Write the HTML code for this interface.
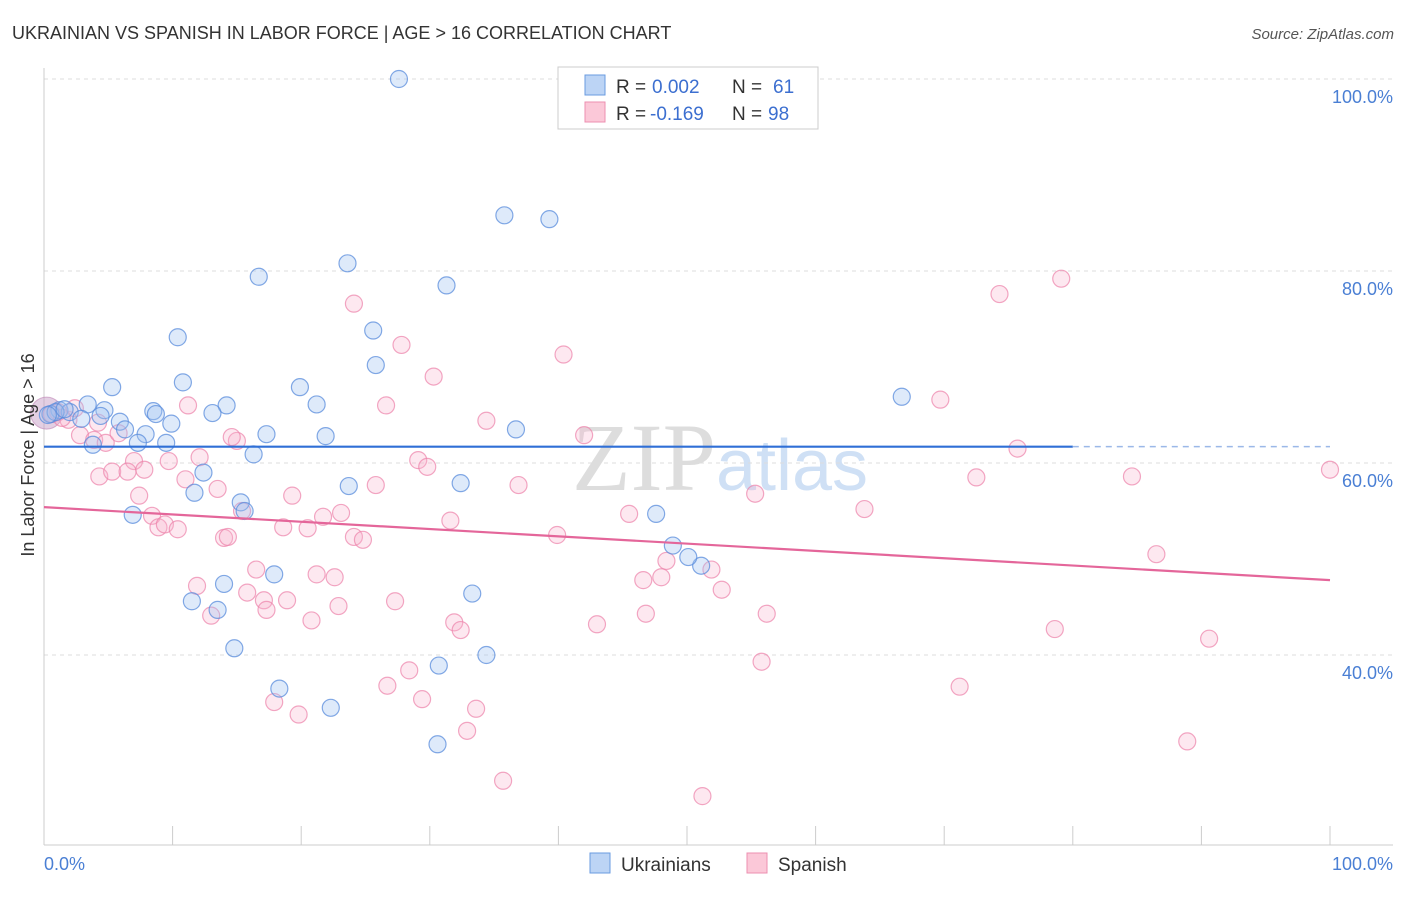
<!DOCTYPE html>
<html><head><meta charset="utf-8"><style>
body{margin:0;background:#fff;font-family:"Liberation Sans",sans-serif}
</style></head><body>
<svg id="chart" width="1406" height="892" xmlns="http://www.w3.org/2000/svg" font-family="Liberation Sans, sans-serif">
<text x="12" y="39" font-size="18" fill="#333">UKRAINIAN VS SPANISH IN LABOR FORCE | AGE &gt; 16 CORRELATION CHART</text>
<text x="1394" y="39" font-size="15" fill="#555" text-anchor="end" font-style="italic">Source: ZipAtlas.com</text>
<text x="720" y="490" font-size="96" fill="#ddd" text-anchor="middle" font-family="Liberation Serif, serif">ZIP<tspan fill="#cfe0f5" font-family="Liberation Sans, sans-serif" font-size="72">atlas</tspan></text>
<g id="grid"></g>
<g id="pts"></g>
<g id="lines"></g>
<text transform="translate(34,455) rotate(-90)" font-size="18" fill="#333" text-anchor="middle">In Labor Force | Age &gt; 16</text>
<text x="44" y="870" font-size="18" fill="#4a7fd4">0.0%</text>
<text x="1393" y="870" font-size="18" fill="#4a7fd4" text-anchor="end">100.0%</text>
<g>
<rect x="558" y="67" width="260" height="62" fill="#fff" stroke="#ccc"/>
<rect x="585" y="75" width="20" height="20" fill="#bcd4f5" stroke="#6a9be0"/>
<rect x="585" y="102" width="20" height="20" fill="#fbc8d8" stroke="#ec8fb0"/>
<text y="93" font-size="19" fill="#333"><tspan x="616">R =</tspan><tspan x="652" fill="#3c6fd0">0.002</tspan><tspan x="732">N =</tspan><tspan x="773" fill="#3c6fd0">61</tspan></text>
<text y="120" font-size="19" fill="#333"><tspan x="616">R =</tspan><tspan x="650" fill="#3c6fd0">-0.169</tspan><tspan x="732">N =</tspan><tspan x="768" fill="#3c6fd0">98</tspan></text>
</g>
<g>
<rect x="590" y="853" width="20" height="20" fill="#bcd4f5" stroke="#6a9be0"/>
<text x="621" y="871" font-size="19" fill="#333">Ukrainians</text>
<rect x="747" y="853" width="20" height="20" fill="#fbc8d8" stroke="#ec8fb0"/>
<text x="778" y="871" font-size="19" fill="#333">Spanish</text>
</g>
</svg>
<script>
const yTicks=[40,60,80,100];
const yTickLabels=["40.0%","60.0%","80.0%","100.0%"];
const xTicks=[0,10,20,30,40,50,60,70,80,90,100];
const blueX=[27.6,35.8,39.3,23.6,16.7,31.3,10.4,25.6,25.8,10.8,5.3,19.9,21.2,14.2,13.1,8.5,8.7,4.7,3.4,1.2,2.0,4.4,2.9,5.9,9.9,6.3,7.9,9.5,17.3,21.9,36.7,3.8,7.3,12.4,16.3,23.7,32.4,11.7,15.3,15.6,6.9,47.6,48.9,51.1,50.1,17.9,14.0,11.5,13.5,33.3,14.8,34.4,30.7,18.3,22.3,30.6,66.7,0.5,0.9,1.6,0.3];
const blueY=[100,85.8,85.4,80.8,79.4,78.5,73.1,73.8,70.2,68.4,67.9,67.9,66.1,66.0,65.2,65.4,65.1,65.5,66.1,65.5,65.3,64.9,64.6,64.3,64.1,63.5,63.0,62.1,63.0,62.8,63.5,61.9,62.1,59.0,60.9,57.6,57.9,56.9,55.9,55.0,54.6,54.7,51.4,49.3,50.2,48.4,47.4,45.6,44.7,46.4,40.7,40.0,38.9,36.5,34.5,30.7,66.9,65.1,65.3,65.6,65.0];
const pinkX=[79.1,74.3,24.1,27.8,40.4,30.3,69.7,11.2,26.6,34.4,1.9,4.2,1.1,2.4,0.6,1.4,2.8,3.9,4.8,5.8,15.0,42.0,75.7,7.0,9.7,12.1,29.1,29.8,4.3,5.3,6.5,7.8,11.0,13.5,19.3,25.8,36.9,72.5,84.6,100,7.4,55.3,63.8,8.4,8.9,9.4,10.4,15.4,18.6,20.5,21.7,23.1,31.6,45.5,39.9,24.1,24.8,14.0,14.3,86.5,48.4,16.5,21.2,22.6,51.9,48.0,46.6,11.9,15.8,17.1,18.9,27.3,22.9,52.7,17.3,13.0,20.8,31.9,32.4,46.8,56.2,43.0,78.6,90.6,55.8,28.4,26.7,71.2,17.9,29.4,19.8,33.6,32.9,88.9,35.7,51.2,14.6];
const pinkY=[79.2,77.6,76.6,72.3,71.3,69.0,66.6,66.0,66.0,64.4,64.5,64.2,65.3,65.7,65.1,64.7,62.9,62.4,62.1,63.1,62.3,62.9,61.5,60.2,60.2,60.6,60.3,59.6,58.6,59.1,59.1,59.3,58.3,57.3,56.6,57.7,57.7,58.5,58.6,59.3,56.6,56.8,55.2,54.5,53.3,53.6,53.1,55.0,53.3,53.2,54.4,54.8,54.0,54.7,52.5,52.3,52.0,52.2,52.3,50.5,49.8,48.9,48.4,48.1,48.9,48.1,47.8,47.2,46.5,45.7,45.7,45.6,45.1,46.8,44.7,44.1,43.6,43.4,42.6,44.3,44.3,43.2,42.7,41.7,39.3,38.4,36.8,36.7,35.1,35.4,33.8,34.4,32.1,31.0,26.9,25.3,62.7];
const blueTrend=[61.7,61.7];
const pinkTrend=[55.4,47.8];
const NS="http://www.w3.org/2000/svg";
const xs=v=>44+v*12.86;
const ys=v=>79+(100-v)*9.6;
function mk(t,a,p){const e=document.createElementNS(NS,t);for(const k in a)e.setAttribute(k,a[k]);p.appendChild(e);return e;}
const grid=document.getElementById('grid');
yTicks.forEach((t,i)=>{
 const l=mk('line',{x1:44,x2:1393,y1:ys(t),y2:ys(t),stroke:'#ddd','stroke-dasharray':'4,4'},grid);
 
 
 const tx=mk('text',{x:1393,y:ys(t)+24,'font-size':18,fill:'#4a7fd4','text-anchor':'end'},grid);
 tx.textContent=yTickLabels[i];
 
 
});
const ax=mk('line',{x1:44,x2:44,y1:68,y2:845,stroke:'#ccc'},grid);


const bx=mk('line',{x1:44,x2:1393,y1:845,y2:845,stroke:'#ccc'},grid);


xTicks.forEach(t=>{
 const l=mk('line',{x1:xs(t),x2:xs(t),y1:826,y2:845,stroke:'#ccc'},grid);
 
 
});
const pts=document.getElementById('pts');
const big=mk('circle',{cx:xs(0.2),cy:ys(65.2),r:16,fill:'rgba(200,160,200,0.5)',stroke:'rgba(190,130,180,0.6)'},pts);


pinkX.forEach((v,i)=>{
 const c=mk('circle',{cx:xs(v),cy:ys(pinkY[i]),r:8.5,fill:'rgba(248,180,205,0.3)',stroke:'rgba(236,130,170,0.7)','stroke-width':1.2},pts);
 
 
});
blueX.forEach((v,i)=>{
 const c=mk('circle',{cx:xs(v),cy:ys(blueY[i]),r:8.5,fill:'rgba(160,195,240,0.35)',stroke:'rgba(90,140,220,0.75)','stroke-width':1.2},pts);
 
 
});
const lines=document.getElementById('lines');
const b1=mk('line',{x1:xs(0),x2:xs(80),y1:ys(blueTrend[0]),y2:ys(blueTrend[0]+(blueTrend[1]-blueTrend[0])*0.8),stroke:'#2f6fd6','stroke-width':2.2},lines);


const b2=mk('line',{x1:xs(80),x2:xs(100),y1:ys(blueTrend[0]+(blueTrend[1]-blueTrend[0])*0.8),y2:ys(blueTrend[1]),stroke:'#9bb8e8','stroke-width':1.5,'stroke-dasharray':'6,5'},lines);


const p1=mk('line',{x1:xs(0),x2:xs(100),y1:ys(pinkTrend[0]),y2:ys(pinkTrend[1]),stroke:'#e4669a','stroke-width':2.2},lines);


</script>
</body></html>
